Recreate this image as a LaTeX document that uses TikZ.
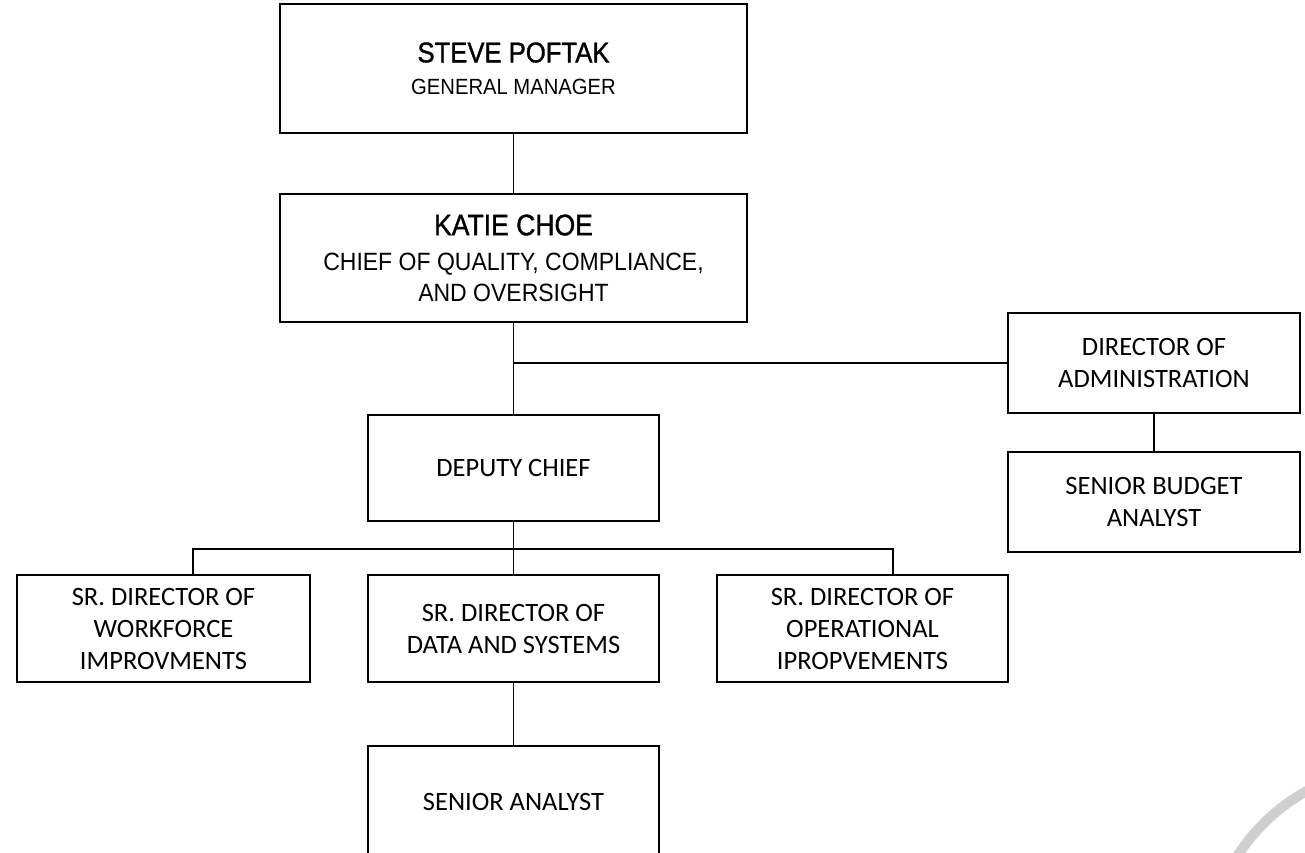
\documentclass[tikz,border=0pt]{standalone}
\usepackage{fontspec}
\setmainfont{Carlito}
\newfontfamily\namefont{Liberation Sans}[FakeStretch=0.9,FakeBold=1.2]
\newfontfamily\titlefont{Liberation Sans}[FakeStretch=0.92]
\begin{document}
\begin{tikzpicture}[x=1pt,y=-1pt,
  box/.style={draw, line width=2.8pt, inner sep=0pt, align=center,
    font=\fontsize{26.5}{32}\selectfont},
  conn/.style={line width=1.4pt}]
\useasboundingbox (0,0) rectangle (1305,853);
\fill[white] (0,0) rectangle (1305,853);
% watermark arc
\draw[line width=10pt, color={rgb,255:red,207;green,207;blue,207}] (1400,960) circle[radius=193];

\node[box, minimum width=467pt, minimum height=129pt] (gm) at (513.5,68.5)
  {\rule{0pt}{8pt}{\namefont\fontsize{28.5}{32}\selectfont STEVE POFTAK}\\
   {\titlefont\fontsize{22}{32}\selectfont GENERAL MANAGER}};
\node[box, minimum width=467pt, minimum height=128pt, font=\titlefont\fontsize{25}{31}\selectfont] (chief) at (513.5,258)
  {{\namefont\fontsize{29.5}{31}\selectfont KATIE CHOE}\\[4pt]
   CHIEF OF QUALITY, COMPLIANCE,\\ AND OVERSIGHT};
\node[box, minimum width=292pt, minimum height=100pt] (admin) at (1154,363)
  {DIRECTOR OF\\ ADMINISTRATION};
\node[box, minimum width=292pt, minimum height=100pt] (budget) at (1154,502)
  {SENIOR BUDGET\\ ANALYST};
\node[box, minimum width=291pt, minimum height=106pt] (deputy) at (513.5,468)
  {DEPUTY CHIEF};
\node[box, minimum width=293pt, minimum height=107pt] (wf) at (163.5,628.5)
  {SR. DIRECTOR OF\\ WORKFORCE\\ IMPROVMENTS};
\node[box, minimum width=291pt, minimum height=107pt] (data) at (513.5,628.5)
  {SR. DIRECTOR OF\\ DATA AND SYSTEMS};
\node[box, minimum width=291pt, minimum height=107pt] (ops) at (862.5,628.5)
  {SR. DIRECTOR OF\\ OPERATIONAL\\ IPROPVEMENTS};
\node[box, minimum width=291pt, minimum height=112pt] (analyst) at (513.5,802)
  {SENIOR ANALYST};

\coordinate (bl) at (193,549);
\coordinate (br) at (893,549);

\draw[conn] (gm.south) -- (chief.north);
\draw[conn] (chief.south) -- (deputy.north);
\draw[conn] (chief.south |- admin.west) -- (admin.west);
\draw[conn] (admin.south) -- (budget.north);
\draw[conn] (deputy.south) -- (data.north);
\draw[conn] (bl |- wf.north) -- (bl) -- (br) -- (br |- ops.north);
\draw[conn] (data.south) -- (analyst.north);
\end{tikzpicture}
\end{document}
